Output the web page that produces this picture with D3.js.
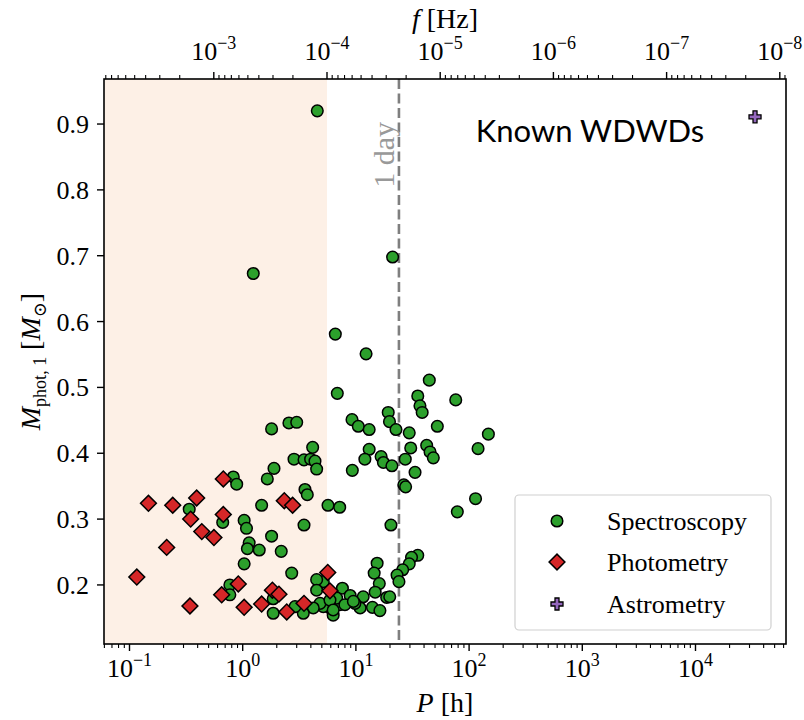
<!DOCTYPE html>
<html>
<head>
<meta charset="utf-8">
<script src="https://cdn.jsdelivr.net/npm/d3@7"></script>
<style>
  body { margin: 0; background: #fff; }
  svg text { font-family: "Liberation Serif", "DejaVu Serif", serif; }
  svg text.sans { font-family: Lato, "Open Sans", "DejaVu Sans", sans-serif; }
</style>
</head>
<body>
<svg id="chart" width="804" height="720"></svg>
<script>
// Orbital period P [h] and primary photometric mass [Msun] per discovery method
const specP = [4.56, 1.24, 21.1, 6.58, 12.3,
  6.85, 44.5, 35.2, 36.8, 38.5, 76.2,
  19.3, 19.8, 9.24, 10.5, 13.1, 22.6, 29.6, 52.4, 148, 120, 13.1, 30.5, 42.2, 45.2, 48.3,
  12.0, 16.7, 17.5, 20.8, 27.3, 33.3, 9.3, 26.5, 27.5, 5.67, 7.19, 114, 78.7, 20.4,
  35.2, 31.0, 29.6, 25.9, 23.1, 24.0, 15.4, 14.5, 16.1, 14.8, 18.7, 19.9, 11.6, 10.9,
  14.0, 16.3, 9.8, 7.6, 8.9, 7.2, 6.1, 5.9, 6.3, 5.15, 6.76, 8.0, 9.5, 5.15,
  4.15, 2.84, 3.48, 3.98, 4.35, 4.50, 1.89, 1.65, 0.826, 0.885, 3.55, 3.72, 1.80, 2.56, 3.0,
  0.337, 0.666, 1.03, 1.08, 1.14, 1.10, 1.40, 1.80, 2.19, 1.03, 2.71, 1.47, 3.48,
  0.77, 0.77, 1.86, 1.86, 4.5, 4.5, 4.82, 5.9, 6.3, 4.2, 3.43, 2.9];
const specM = [0.920, 0.673, 0.698, 0.581, 0.551,
  0.491, 0.511, 0.487, 0.472, 0.462, 0.481,
  0.462, 0.448, 0.451, 0.441, 0.436, 0.436, 0.431, 0.441, 0.429, 0.407, 0.406, 0.408, 0.412, 0.402, 0.393,
  0.391, 0.395, 0.386, 0.381, 0.391, 0.371, 0.374, 0.352, 0.349, 0.321, 0.318, 0.331, 0.311, 0.291,
  0.245, 0.242, 0.232, 0.223, 0.215, 0.205, 0.233, 0.218, 0.202, 0.189, 0.181, 0.182, 0.182, 0.165,
  0.166, 0.161, 0.172, 0.195, 0.184, 0.170, 0.177, 0.165, 0.154, 0.205, 0.180, 0.170, 0.175, 0.167,
  0.409, 0.391, 0.390, 0.391, 0.388, 0.376, 0.377, 0.361, 0.364, 0.353, 0.345, 0.337, 0.437, 0.446, 0.447,
  0.315, 0.295, 0.298, 0.286, 0.264, 0.255, 0.253, 0.274, 0.251, 0.232, 0.218, 0.321, 0.291,
  0.200, 0.185, 0.157, 0.179, 0.208, 0.192, 0.172, 0.177, 0.162, 0.165, 0.157, 0.167];

const photP = [0.116, 0.147, 0.213, 0.241, 0.392, 0.347, 0.435, 0.557, 0.674, 0.674, 0.342, 0.652,
  0.914, 1.03, 1.47, 1.83, 2.09, 2.45, 3.48, 2.33, 2.76, 5.64, 5.9];
const photM = [0.212, 0.324, 0.257, 0.321, 0.332, 0.300, 0.281, 0.272, 0.307, 0.361, 0.168, 0.185,
  0.2015, 0.166, 0.171, 0.192, 0.186, 0.159, 0.172, 0.328, 0.321, 0.219, 0.191];

const astroP = [33560];
const astroM = [0.911];

const xTickExps = [-1, 0, 1, 2, 3, 4];
const fTickExps = [-3, -4, -5, -6, -7, -8];
const yTicks = [0.2, 0.3, 0.4, 0.5, 0.6, 0.7, 0.8, 0.9];

const lisaFreq = 1e-4;   // Hz, edge of shaded band
const dayHours = 24;

const svg = d3.select("#chart");
const L = 104, R = 786, T = 79, B = 644;

const x = d3.scaleLog().domain([0.05953, 63020]).range([L, R]);
const y = d3.scaleLinear().domain([0.1103, 0.9684]).range([B, T]);
// gravitational-wave frequency f = 2 / P
const toF = p => 2 / (p * 3600);
const fx = d3.scaleLog().domain([toF(0.05953), toF(63020)]).range([L, R]);

svg.append("clipPath").attr("id", "plotclip")
  .append("rect").attr("x", L).attr("y", T).attr("width", R - L).attr("height", B - T);

// shaded band: periods whose frequency lies above lisaFreq
svg.append("rect")
  .attr("x", L).attr("y", T)
  .attr("width", fx(lisaFreq) - L)
  .attr("height", B - T)
  .attr("fill", "rgb(253,240,230)");

// 1 day marker
svg.append("line")
  .attr("x1", x(dayHours)).attr("x2", x(dayHours))
  .attr("y1", T).attr("y2", B)
  .attr("stroke", "#7f7f7f").attr("stroke-width", 2.6)
  .attr("stroke-dasharray", "10,4.5");
svg.append("text")
  .attr("transform", `translate(${x(dayHours) - 5},${T + 43}) rotate(-90)`)
  .attr("text-anchor", "end")
  .attr("font-size", 30)
  .attr("fill", "#999999")
  .text("1 day");

const plot = svg.append("g").attr("clip-path", "url(#plotclip)");

// Spectroscopy
plot.selectAll("circle.spec").data(d3.range(specP.length)).join("circle")
  .attr("class", "spec")
  .attr("cx", i => x(specP[i])).attr("cy", i => y(specM[i]))
  .attr("r", 5.8)
  .attr("fill", "#2ca02c").attr("stroke", "#000").attr("stroke-width", 1.5);

// Photometry
const diamond = d3.symbol(d3.symbolSquare, 125)();
plot.selectAll("path.phot").data(d3.range(photP.length)).join("path")
  .attr("class", "phot")
  .attr("d", diamond)
  .attr("transform", i => `translate(${x(photP[i])},${y(photM[i])}) rotate(45)`)
  .attr("fill", "#d62728").attr("stroke", "#000").attr("stroke-width", 1.5);

// Astrometry
const plus = d3.symbol(d3.symbolCross, 80)();
plot.selectAll("path.astro").data(d3.range(astroP.length)).join("path")
  .attr("class", "astro")
  .attr("d", plus)
  .attr("transform", i => `translate(${x(astroP[i])},${y(astroM[i])})`)
  .attr("fill", "#9467bd").attr("stroke", "#000").attr("stroke-width", 1.3);

// frame
svg.append("rect").attr("x", L).attr("y", T).attr("width", R - L).attr("height", B - T)
  .attr("fill", "none").attr("stroke", "#000").attr("stroke-width", 1.6);

// minor tick values (2..9 x 10^k) inside [lo, hi]
function minorVals(lo, hi) {
  const out = [];
  for (let e = Math.floor(Math.log10(lo)) - 1; e <= Math.ceil(Math.log10(hi)); e++) {
    for (let k = 2; k <= 9; k++) {
      const v = k * Math.pow(10, e);
      if (v >= lo && v <= hi) out.push(v);
    }
  }
  return out;
}

function supLabel(sel, exp) {
  sel.text(null);
  sel.append("tspan").attr("font-size", 26).text("10");
  sel.append("tspan").attr("font-size", 18).attr("dy", -11)
    .text(exp < 0 ? "\u2212" + Math.abs(exp) : String(exp));
}

// bottom axis
const bx = svg.append("g").attr("transform", `translate(0,${B})`);
bx.selectAll("line.minor").data(minorVals(0.05953, 63020)).join("line")
  .attr("class", "minor")
  .attr("x1", d => x(d)).attr("x2", d => x(d)).attr("y1", 0).attr("y2", 4)
  .attr("stroke", "#000").attr("stroke-width", 1.1);
bx.selectAll("line.major").data(xTickExps).join("line")
  .attr("class", "major")
  .attr("x1", d => x(Math.pow(10, d))).attr("x2", d => x(Math.pow(10, d)))
  .attr("y1", 0).attr("y2", 7).attr("stroke", "#000").attr("stroke-width", 1.4);
bx.selectAll("text").data(xTickExps).join("text")
  .attr("x", d => x(Math.pow(10, d)))
  .attr("y", 33)
  .attr("text-anchor", "middle")
  .each(function (d) { supLabel(d3.select(this), d); });

// top axis (frequency)
const fLo = toF(63020), fHi = toF(0.05953);
const tx = svg.append("g").attr("transform", `translate(0,${T})`);
tx.selectAll("line.minor").data(minorVals(fLo, fHi)).join("line")
  .attr("class", "minor")
  .attr("x1", d => fx(d)).attr("x2", d => fx(d)).attr("y1", 0).attr("y2", -4)
  .attr("stroke", "#000").attr("stroke-width", 1.1);
tx.selectAll("line.major").data(fTickExps).join("line")
  .attr("class", "major")
  .attr("x1", d => fx(Math.pow(10, d))).attr("x2", d => fx(Math.pow(10, d)))
  .attr("y1", 0).attr("y2", -7).attr("stroke", "#000").attr("stroke-width", 1.4);
tx.selectAll("text").data(fTickExps).join("text")
  .attr("x", d => fx(Math.pow(10, d)))
  .attr("y", -19)
  .attr("text-anchor", "middle")
  .each(function (d) { supLabel(d3.select(this), d); });

// left axis
const ly = svg.append("g").attr("transform", `translate(${L},0)`);
ly.selectAll("line").data(yTicks).join("line")
  .attr("x1", 0).attr("x2", -7).attr("y1", d => y(d)).attr("y2", d => y(d))
  .attr("stroke", "#000").attr("stroke-width", 1.4);
ly.selectAll("text").data(yTicks).join("text")
  .attr("x", -15).attr("y", d => y(d) + 9)
  .attr("text-anchor", "end").attr("font-size", 26)
  .text(d => d.toFixed(1));

// axis titles
const xt = svg.append("text").attr("x", (L + R) / 2).attr("y", 712)
  .attr("text-anchor", "middle").attr("font-size", 28);
xt.append("tspan").attr("font-style", "italic").text("P");
xt.append("tspan").text(" [h]");

const ft = svg.append("text").attr("x", (L + R) / 2).attr("y", 28)
  .attr("text-anchor", "middle").attr("font-size", 28);
ft.append("tspan").attr("font-style", "italic").text("f");
ft.append("tspan").text(" [Hz]");

const yt = svg.append("text")
  .attr("transform", `translate(40,${(T + B) / 2}) rotate(-90)`)
  .attr("text-anchor", "middle").attr("font-size", 28);
yt.append("tspan").attr("font-style", "italic").text("M");
yt.append("tspan").attr("font-size", 18).attr("dy", 6).text("phot, 1");
yt.append("tspan").attr("dy", -6).text(" [");
yt.append("tspan").attr("font-style", "italic").text("M");
yt.append("tspan").attr("font-size", 18).attr("dy", 6).text("\u2299");
yt.append("tspan").attr("dy", -6).text("]");

// title inside plot
svg.append("text").attr("class", "sans")
  .attr("x", 590).attr("y", 142)
  .attr("text-anchor", "middle")
  .attr("font-size", 31)
  .text("Known WDWDs");

// legend
const lg = svg.append("g");
lg.append("rect").attr("x", 515).attr("y", 495).attr("width", 256).attr("height", 135)
  .attr("rx", 4).attr("fill", "#fff").attr("fill-opacity", 0.8)
  .attr("stroke", "#d0d0d0").attr("stroke-width", 1.2);
const rows = [
  { label: "Spectroscopy", y: 521, kind: "spec" },
  { label: "Photometry", y: 562, kind: "phot" },
  { label: "Astrometry", y: 604, kind: "astro" }
];
rows.forEach(r => {
  if (r.kind === "spec") {
    lg.append("circle").attr("cx", 557).attr("cy", r.y).attr("r", 5.8)
      .attr("fill", "#2ca02c").attr("stroke", "#000").attr("stroke-width", 1.5);
  } else if (r.kind === "phot") {
    lg.append("path").attr("d", diamond)
      .attr("transform", `translate(557,${r.y}) rotate(45)`)
      .attr("fill", "#d62728").attr("stroke", "#000").attr("stroke-width", 1.5);
  } else {
    lg.append("path").attr("d", plus)
      .attr("transform", `translate(557,${r.y})`)
      .attr("fill", "#9467bd").attr("stroke", "#000").attr("stroke-width", 1.3);
  }
  lg.append("text").attr("x", 607).attr("y", r.y + 9).attr("font-size", 26).text(r.label);
});
</script>
</body>
</html>
